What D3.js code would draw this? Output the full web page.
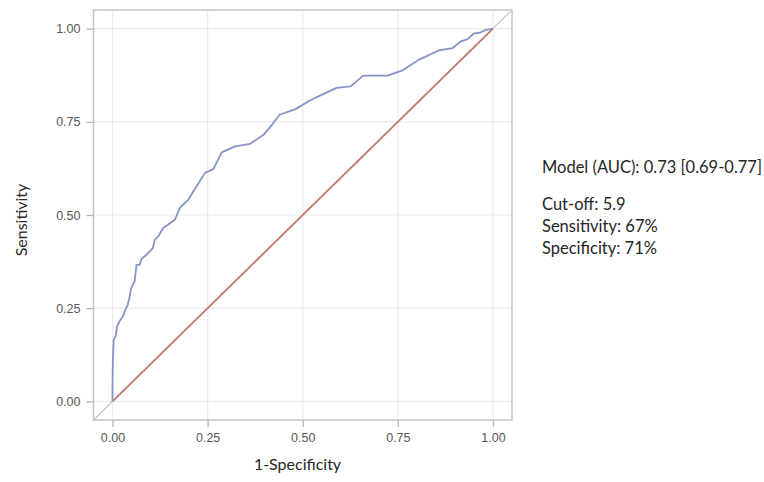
<!DOCTYPE html>
<html>
<head>
<meta charset="utf-8">
<script src="https://cdn.jsdelivr.net/npm/d3@7"></script>
<style>
  html, body { margin: 0; padding: 0; background: #fff; }
  svg { display: block; }
</style>
</head>
<body>
<div id="chart"></div>
<script>
// ROC curve coordinates: false positive rate (1-specificity) and true positive rate (sensitivity)
const fpr = [0, 0, 0.001, 0.003, 0.008, 0.012, 0.018, 0.027, 0.034, 0.040, 0.045, 0.049, 0.058,
  0.063, 0.071, 0.076, 0.089, 0.106, 0.111, 0.120, 0.133, 0.164, 0.177, 0.199, 0.243, 0.265,
  0.287, 0.322, 0.362, 0.397, 0.419, 0.439, 0.481, 0.520, 0.555, 0.589, 0.626, 0.659, 0.723,
  0.762, 0.806, 0.859, 0.894, 0.916, 0.932, 0.950, 0.965, 0.980, 0.991, 1];
const tpr = [0, 0.049, 0.111, 0.165, 0.174, 0.201, 0.214, 0.228, 0.246, 0.259, 0.281, 0.304, 0.322,
  0.366, 0.366, 0.382, 0.393, 0.411, 0.434, 0.442, 0.465, 0.487, 0.519, 0.541, 0.613, 0.623,
  0.668, 0.684, 0.691, 0.715, 0.742, 0.769, 0.784, 0.808, 0.825, 0.841, 0.845, 0.874, 0.874,
  0.888, 0.917, 0.942, 0.948, 0.966, 0.971, 0.987, 0.989, 0.996, 0.998, 1];

const tickValues = [0, 0.25, 0.5, 0.75, 1];
const xTitle = "1-Specificity";
const yTitle = "Sensitivity";
const annotations = [
  "Model (AUC): 0.73 [0.69-0.77]",
  "Cut-off: 5.9",
  "Sensitivity: 67%",
  "Specificity: 71%"
];

const W = 764, H = 482;
const plot = { left: 93.5, right: 512, top: 10, bottom: 420 };

const svg = d3.select("#chart").append("svg")
  .attr("width", W).attr("height", H);

const x = d3.scaleLinear().domain([-0.05, 1.05]).range([plot.left, plot.right]);
const y = d3.scaleLinear().domain([-0.05, 1.05]).range([plot.bottom, plot.top]);

// grid
const grid = svg.append("g");
grid.selectAll("line.v").data(tickValues).join("line")
  .attr("x1", d => x(d)).attr("x2", d => x(d))
  .attr("y1", plot.top).attr("y2", plot.bottom)
  .attr("stroke", "#ebebeb").attr("stroke-width", 1.2);
grid.selectAll("line.h").data(tickValues).join("line")
  .attr("y1", d => y(d)).attr("y2", d => y(d))
  .attr("x1", plot.left).attr("x2", plot.right)
  .attr("stroke", "#ebebeb").attr("stroke-width", 1.2);

// reference diagonal across the full panel
svg.append("line")
  .attr("x1", x(-0.05)).attr("y1", y(-0.05))
  .attr("x2", x(1.05)).attr("y2", y(1.05))
  .attr("stroke", "#c9c9c9").attr("stroke-width", 1.3);

// chance line
svg.append("line")
  .attr("x1", x(0)).attr("y1", y(0))
  .attr("x2", x(1)).attr("y2", y(1))
  .attr("stroke", "#c27a6e").attr("stroke-width", 1.8);

// ROC curve
const pts = fpr.map((f, i) => [f, tpr[i]]);
svg.append("path")
  .datum(pts)
  .attr("fill", "none")
  .attr("stroke", "#8594c9")
  .attr("stroke-width", 1.8)
  .attr("stroke-linejoin", "round")
  .attr("d", d3.line().x(d => x(d[0])).y(d => y(d[1])));

// frame
svg.append("rect")
  .attr("x", plot.left).attr("y", plot.top)
  .attr("width", plot.right - plot.left).attr("height", plot.bottom - plot.top)
  .attr("fill", "none").attr("stroke", "#c4c4c4").attr("stroke-width", 1.5);

// axes
const fmt = d3.format(".2f");
const xAxis = svg.append("g")
  .attr("transform", `translate(0,${plot.bottom})`)
  .call(d3.axisBottom(x).tickValues(tickValues).tickFormat(fmt).tickSize(7).tickPadding(6));
const yAxis = svg.append("g")
  .attr("transform", `translate(${plot.left},0)`)
  .call(d3.axisLeft(y).tickValues(tickValues).tickFormat(fmt).tickSize(7).tickPadding(6));
[xAxis, yAxis].forEach(g => {
  g.select(".domain").remove();
  g.selectAll(".tick line").attr("stroke", "#b5b5b5").attr("stroke-width", 1.3);
  g.selectAll(".tick text")
    .attr("fill", "#555555")
    .style("font-family", "'Liberation Sans', Arial, sans-serif")
    .style("font-size", "12.5px");
});

// axis titles
svg.append("text")
  .attr("x", 297.5).attr("y", 470)
  .attr("text-anchor", "middle")
  .attr("fill", "#262626")
  .style("font-family", "Lato, 'Open Sans', sans-serif")
  .style("font-size", "16px")
  .text(xTitle);
svg.append("text")
  .attr("transform", `translate(27,220) rotate(-90)`)
  .attr("text-anchor", "middle")
  .attr("fill", "#262626")
  .style("font-family", "Lato, 'Open Sans', sans-serif")
  .style("font-size", "16px")
  .text(yTitle);

// annotation block
const baselines = [173, 210, 232, 254];
svg.append("g").selectAll("text").data(annotations).join("text")
  .attr("x", 542).attr("y", (d, i) => baselines[i])
  .attr("fill", "#262626")
  .style("font-family", "Lato, 'Open Sans', sans-serif")
  .style("font-size", "16.5px")
  .text(d => d);
</script>
</body>
</html>
